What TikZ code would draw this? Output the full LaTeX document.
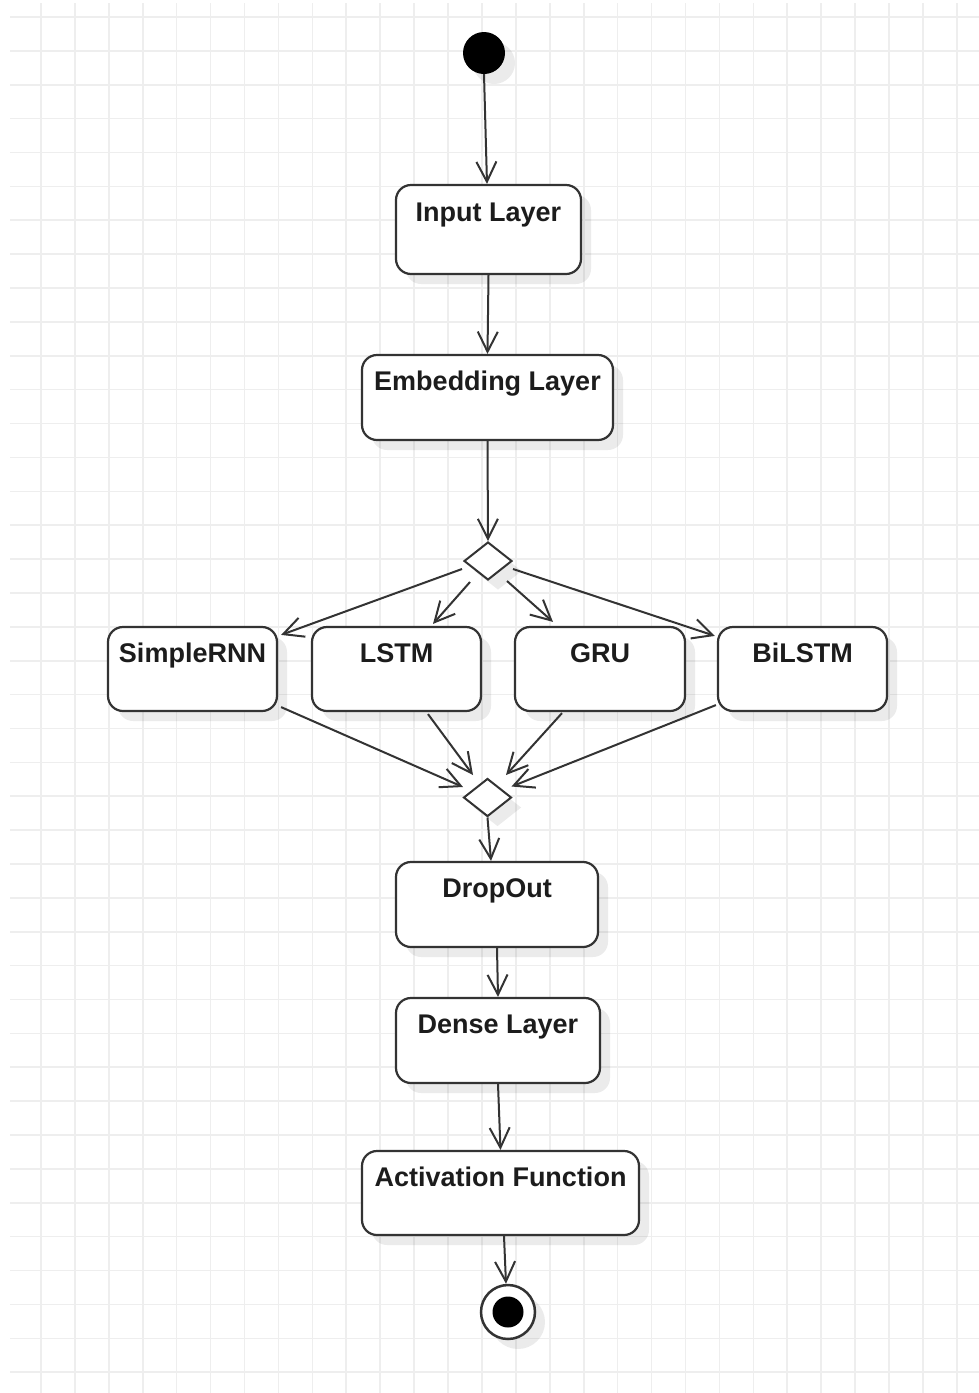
\documentclass[tikz,border=0pt]{standalone}
\usepackage{fontspec}
\setmainfont{Liberation Sans}
\usetikzlibrary{arrows.meta,shapes.geometric,shadows,calc}
\definecolor{ink}{HTML}{333333}
\definecolor{gridc}{HTML}{EEEEEE}
\definecolor{txt}{HTML}{1C1C1C}

\begin{document}
\begin{tikzpicture}[x=1pt,y=-1pt,
  softshadow/.style={drop shadow={shadow xshift=10pt,shadow yshift=-10pt,fill=black,opacity=0.08}},
  actbox/.style={draw=ink,line width=2.2pt,rounded corners=15pt,fill=white,softshadow,inner sep=0pt},
  boxlabel/.style={anchor=base,font=\fontsize{27}{32}\selectfont\bfseries,text=txt,inner sep=0pt},
  flow/.style={draw=ink,line width=2pt,-{Straight Barb[length=20pt,width=20pt]}},
  gate/.style={diamond,draw=ink,line width=2pt,fill=white,minimum width=48pt,minimum height=38pt,inner sep=0pt,softshadow},
  gridline/.style={draw=gridc,line width=1.6pt}]

% canvas and background grid
\useasboundingbox (0,0) rectangle (979,1393);
\fill[white] (0,0) rectangle (979,1393);
\foreach \i in {0,...,27}
  \draw[gridline] ({41+33.92*\i},3) -- ({41+33.92*\i},1393);
\foreach \j in {0,...,40}
  \draw[gridline] (10,{17+33.88*\j}) -- (979,{17+33.88*\j});

% initial state
\node[circle,fill=black,minimum size=42pt,inner sep=0pt,softshadow] (start) at (484,53) {};

% layers
\node[actbox,minimum width=185pt,minimum height=89pt,
  label={[boxlabel,yshift=-37.5pt]north:Input Layer}] (input) at (488.5,229.5) {};
\node[actbox,minimum width=251pt,minimum height=85pt,
  label={[boxlabel,yshift=-36.5pt]north:Embedding Layer}] (embed) at (487.5,397.5) {};

\node[gate] (fork) at (488,561) {};

\node[actbox,minimum width=169pt,minimum height=84pt,
  label={[boxlabel,yshift=-36.5pt]north:SimpleRNN}] (srnn) at (192.5,669) {};
\node[actbox,minimum width=169pt,minimum height=84pt,
  label={[boxlabel,yshift=-36.5pt]north:LSTM}] (lstm) at (396.5,669) {};
\node[actbox,minimum width=170pt,minimum height=84pt,
  label={[boxlabel,yshift=-36.5pt]north:GRU}] (gru) at (600,669) {};
\node[actbox,minimum width=169pt,minimum height=84pt,
  label={[boxlabel,yshift=-36.5pt]north:BiLSTM}] (bilstm) at (802.5,669) {};

\node[gate] (join) at (487.5,797.5) {};

\node[actbox,minimum width=202pt,minimum height=85pt,
  label={[boxlabel,yshift=-36.5pt]north:DropOut}] (drop) at (497,904.5) {};
\node[actbox,minimum width=204pt,minimum height=85pt,
  label={[boxlabel,yshift=-36.5pt]north:Dense Layer}] (dense) at (498,1040.5) {};
\node[actbox,minimum width=277pt,minimum height=84pt,
  label={[boxlabel,yshift=-36.5pt]north:Activation Function}] (act) at (500.5,1193) {};

% final state
\node[circle,draw=ink,line width=2.5pt,fill=white,minimum size=54pt,inner sep=0pt,softshadow] (stop) at (508,1312) {};
\fill[black] (stop.center) circle (15.5);

% control flow
\draw[flow] (start.south) -- ([xshift=-1.5pt]input.north);
\draw[flow] (input.south) -- (embed.north);
\draw[flow] (embed.south) -- (fork.north);

\draw[flow] ($(fork)+(-26,8)$) -- ($(srnn.north east)+(3,9)$);
\draw[flow] ($(fork)+(-18,21)$) -- ($(lstm.north)+(36.5,-2)$);
\draw[flow] ($(fork)+(19,20)$) -- ($(gru.north)+(-47,-4)$);
\draw[flow] ($(fork)+(25,8)$) -- ($(bilstm.north west)+(-2,10)$);

\draw[flow] ($(srnn.south east)+(3,-5)$) -- ($(join)+(-24.5,-10.5)$);
\draw[flow] ($(lstm.south)+(31.5,2)$) -- ($(join)+(-14.5,-22.5)$);
\draw[flow] ($(gru.south)+(-38,1)$) -- ($(join)+(18.5,-22.5)$);
\draw[flow] ($(bilstm.south west)+(-1,-7)$) -- ($(join)+(24,-11)$);

\draw[flow] (join.south) -- ([xshift=-6pt]drop.north);
\draw[flow] (drop.south) -- (dense.north);
\draw[flow] (dense.south) -- (act.north);
\draw[flow] ([xshift=3.5pt]act.south) -- ([xshift=-2pt]stop.north);
\end{tikzpicture}
\end{document}
